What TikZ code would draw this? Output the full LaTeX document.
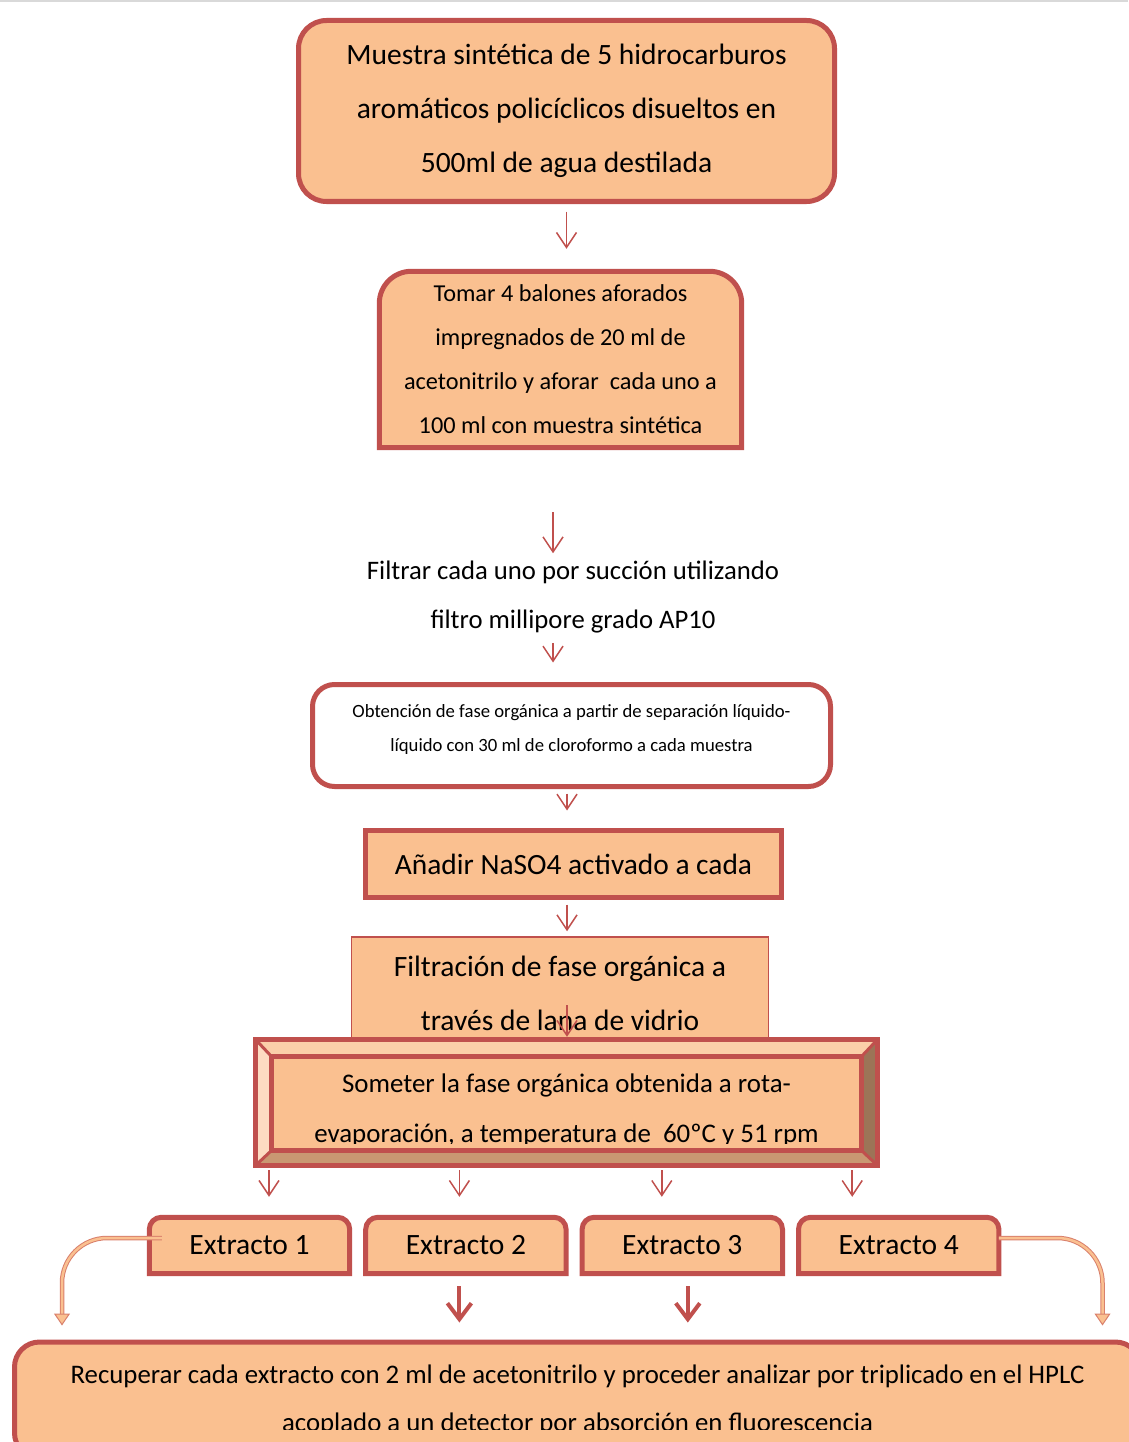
\documentclass[tikz,border=0pt]{standalone}
\usepackage{fontspec}
\setmainfont{Carlito}
\usepackage{tikz}
\usetikzlibrary{arrows.meta,positioning,calc,backgrounds}
\definecolor{peach}   {HTML}{FAC090}
\definecolor{brick}   {HTML}{C0504D}
\definecolor{sidered} {HTML}{D9806C}
\definecolor{bevtop}  {HTML}{FBCFA9}
\definecolor{bevleft} {HTML}{FDDCC2}
\definecolor{bevright}{HTML}{9C7457}
\definecolor{bevbot}  {HTML}{C99872}
\tikzset{
  stepbox/.style ={draw=brick, fill=peach, line width=5pt, align=center,
                   inner sep=0pt, text=black},
  roundbox/.style={stepbox, rounded corners=#1},
  roundbox/.default=28pt,
  tabtext/.style ={align=center, inner sep=0pt, text=black},
  tabline/.style ={draw=brick, fill=peach, line width=5pt},
  bevedge/.style ={draw=brick, line width=3pt},
  thinarr/.style ={-{Straight Barb[length=15pt,width=20pt]}, draw=brick,
                   line width=1.5pt},
  thickarr/.style={-{Straight Barb[length=16pt,width=24pt]}, draw=brick,
                   line width=4pt},
  sidearr/.style ={-{Triangle[length=12pt,width=16pt,fill=peach]},
                   draw=sidered, double=peach, double distance=2.5pt,
                   line width=1pt, rounded corners=45pt},
}
\begin{document}
\begin{tikzpicture}[x=1pt,y=-1pt]
  \useasboundingbox (0,0) rectangle (1128,1442);
  \draw[gray!30, line width=3pt] (0,1) -- (1128,1);
  % column of steps
  \node[roundbox, minimum width=536pt, minimum height=181pt,
        font=\fontsize{29.5}{54}\selectfont] (muestra) at (566.5,111)
        {Muestra sintética de 5 hidrocarburos\\aromáticos policíclicos disueltos en\\500ml de agua destilada};
  \node[tabtext, minimum width=362pt, minimum height=176pt,
        font=\fontsize{24.3}{44}\selectfont] (toma) at (560.5,359.5)
        {Tomar 4 balones aforados\\impregnados de 20 ml de\\acetonitrilo y aforar\ \ cada uno a\\100 ml con muestra sintética};
  \node[align=center, inner sep=0pt, font=\fontsize{26.7}{49}\selectfont] (filtrar) at (573,597.5)
        {Filtrar cada uno por succión utilizando\\filtro millipore grado AP10};
  \node[roundbox=22pt, fill=white, minimum width=518pt, minimum height=102pt,
        text depth=16pt, font=\fontsize{18.7}{34}\selectfont] (obtencion) at (571.5,735.5)
        {Obtención de fase orgánica a partir de separación líquido-\\líquido con 30 ml de cloroformo a cada muestra};
  \node[stepbox, minimum width=416pt, minimum height=67pt,
        font=\fontsize{29.4}{54}\selectfont] (anadir) at (573.5,864)
        {Añadir NaSO4 activado a cada};
  \begin{scope}[on background layer]
    \node[stepbox, line width=1.5pt, minimum width=417pt, minimum height=112pt,
          font=\fontsize{29.5}{54}\selectfont] (filtracion) at (560,993)
          {Filtración de fase orgánica a\\través de lana de vidrio};
  \end{scope}
  \begin{scope}
    \clip (240,1030) rectangle (890,1143);
    \node[tabtext, minimum width=621pt, minimum height=125pt,
          font=\fontsize{26.9}{50}\selectfont] (someter) at (566.5,1110.5)
          {Someter la fase orgánica obtenida a rota-\\evaporación, a temperatura de\ \ 60ºC y 51 rpm};
  \end{scope}
  % bevelled frame
  \begin{scope}[on background layer]
    \coordinate (iNW) at ($(someter.north west)+(16,9)$);
    \coordinate (iNE) at ($(someter.north east)+(-16,9)$);
    \coordinate (iSE) at ($(someter.south east)+(-16,-23)$);
    \coordinate (iSW) at ($(someter.south west)+(16,-23)$);
    \coordinate (oNW) at ($(someter.north west)+(0,-8)$);
    \coordinate (oNE) at ($(someter.north east)+(0,-8)$);
    \coordinate (oSE) at ($(someter.south east)+(0,-8)$);
    \coordinate (oSW) at ($(someter.south west)+(0,-8)$);
    \fill[bevtop] (oNW) -- (oNE) -- (iNE) -- (iNW) -- cycle;
    \fill[bevleft] (oNW) -- (iNW) -- (iSW) -- (oSW) -- cycle;
    \fill[bevright] (oNE) -- (oSE) -- (iSE) -- (iNE) -- cycle;
    \fill[bevbot] (oSW) -- (iSW) -- (iSE) -- (oSE) -- cycle;
    \fill[peach] (iNW) rectangle (iSE);
    \foreach \o/\i in {oNW/iNW, oNE/iNE, oSE/iSE, oSW/iSW}
      \draw[bevedge] (\o) -- (\i);
    \draw[bevedge, line width=5pt] (iNW) rectangle (iSE);
    \draw[bevedge, line width=5pt] (oNW) rectangle (oSE);
  \end{scope}
  % extracts
  \node[tabtext, minimum width=200pt, minimum height=56pt,
        font=\fontsize{29.5}{34}\selectfont] (ex1) at (249.5,1245.5) {Extracto 1};
  \node[tabtext, minimum width=200pt, minimum height=56pt,
        font=\fontsize{29.5}{34}\selectfont, right=16pt of ex1] (ex2) {Extracto 2};
  \node[tabtext, minimum width=200pt, minimum height=56pt,
        font=\fontsize{29.5}{34}\selectfont, right=16pt of ex2] (ex3) {Extracto 3};
  \node[tabtext, minimum width=200pt, minimum height=56pt,
        font=\fontsize{29.5}{34}\selectfont, right=16pt of ex3] (ex4) {Extracto 4};
  \node[roundbox=25pt, minimum width=1126pt, minimum height=116pt,
        font=\fontsize{26.8}{48}\selectfont] (recuperar) at (577.5,1400)
        {Recuperar cada extracto con 2 ml de acetonitrilo y proceder analizar por triplicado en el HPLC\\acoplado a un detector por absorción en fluorescencia};
  \fill[peach] (60,1430) rectangle (1128,1442);
  % tab shaped boxes
  \begin{scope}[on background layer]
    \foreach \n/\r in {toma/32, ex1/12, ex2/12, ex3/12, ex4/12}
      \filldraw[tabline] (\n.south west) -- (\n.south east)
        -- ([yshift=-\r pt]\n.north east) arc[start angle=0, end angle=90, radius=\r pt]
        -- ([xshift=\r pt]\n.north west) arc[start angle=90, end angle=180, radius=\r pt]
        -- cycle;
  \end{scope}
  % arrows
  \draw[thinarr, shorten <=7.5pt, shorten >=22.5pt] (muestra.south) -- (muestra.south |- toma.north);
  \draw[thinarr, shorten <=64.5pt, shorten >=8pt] ([xshift=-7.5pt]toma.south) -- ([xshift=-7.5pt]toma.south |- filtrar.north);
  \draw[thinarr, shorten <=9pt, shorten >=19.5pt] ([xshift=-20pt]filtrar.south) -- ([xshift=-20pt]filtrar.south |- obtencion.north);
  \draw[thinarr, shorten <=4.5pt, shorten >=17.5pt] ([xshift=-4.5pt]obtencion.south) -- ([xshift=-4.5pt]obtencion.south |- anadir.north);
  \draw[thinarr, shorten <=4.5pt, shorten >=5pt] ([xshift=-6.5pt]anadir.south) -- ([xshift=-6.5pt]anadir.south |- filtracion.north);
  \draw[thinarr, shorten >=3pt] ([xshift=7pt,yshift=-12pt]filtracion.center) -- ([xshift=7pt]filtracion.center |- oNW);
  \foreach \n/\dx in {ex1/19.5, ex2/-6.5, ex3/-20.5, ex4/-46.5}
    \draw[thinarr, shorten <=5pt, shorten >=20.5pt] ([xshift=\dx pt]\n.north |- oSW) -- ([xshift=\dx pt]\n.north);
  \draw[thickarr, shorten <=12.5pt, shorten >=17pt] ([xshift=-6.5pt]ex2.south) -- ([xshift=-6.5pt]ex2.south |- recuperar.north);
  \draw[thickarr, shorten <=12.5pt, shorten >=17pt] ([xshift=5.5pt]ex3.south) -- ([xshift=5.5pt]ex3.south |- recuperar.north);
  \coordinate (dropL) at ([xshift=50pt]recuperar.north west);
  \coordinate (dropR) at ([xshift=-40.5pt]recuperar.north east);
  \draw[sidearr, shorten >=14pt] ([xshift=12.5pt,yshift=7.5pt]ex1.west) -| (dropL);
  \draw[sidearr, shorten >=14pt] ([yshift=7.5pt]ex4.east) -| (dropR);
\end{tikzpicture}
\end{document}
